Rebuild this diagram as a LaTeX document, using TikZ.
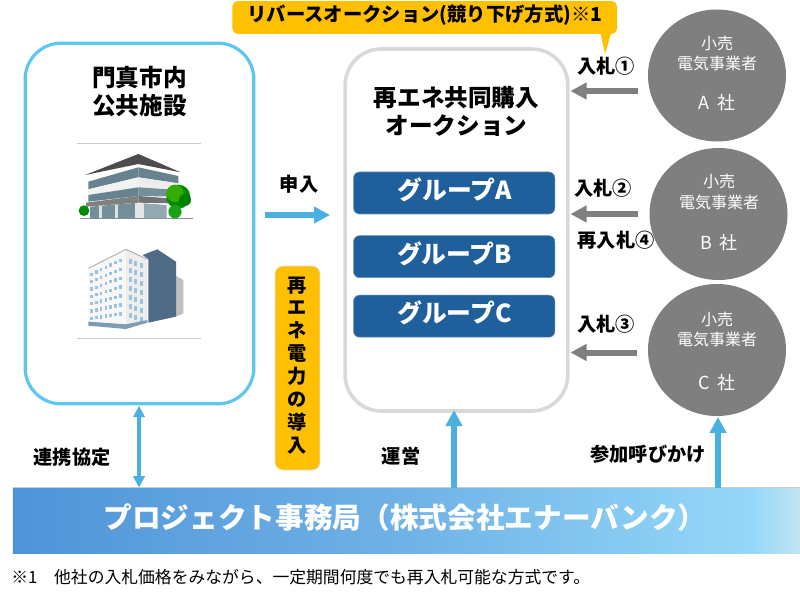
\documentclass[tikz,border=0pt]{standalone}
\usepackage{fontspec}
\setmainfont{Noto Sans CJK JP}
\usetikzlibrary{arrows.meta,shapes.geometric}
\definecolor{skyb}{HTML}{5FC6F0}
\definecolor{frameg}{HTML}{D9D9D9}
\definecolor{amber}{HTML}{FFC000}
\definecolor{groupb}{HTML}{1F5F9B}
\definecolor{circg}{HTML}{7F7F7F}
\definecolor{arrb}{HTML}{4AB0E0}
\definecolor{arrg}{HTML}{7F7F7F}
\definecolor{bandd}{HTML}{66838F}
\definecolor{winb}{HTML}{9CC3E0}
\definecolor{towerd}{HTML}{4F6B85}
\definecolor{s1}{HTML}{4F94D8}\definecolor{s2}{HTML}{70B2E6}\definecolor{s3}{HTML}{94D8F8}\definecolor{s4}{HTML}{C2E5F4}
\pgfdeclarehorizontalshading{barshade}{100bp}{color(0bp)=(s1); color(25bp)=(s1); color(50bp)=(s2); color(72bp)=(s3); color(75bp)=(s4); color(100bp)=(s4)}
\tikzset{
  lab/.style={inner sep=0pt,outer sep=0pt,font=\fontsize{14.4}{16}\selectfont\bfseries,text=black},
  head/.style={lab,align=center,font=\fontsize{17.7}{21}\selectfont\bfseries},
  grp/.style={fill=groupb,draw=groupb!70,line width=.4pt,rounded corners=4.5pt,minimum width=151pt,minimum height=31.5pt,inner sep=0pt,outer sep=0pt},
  grptext/.style={inner sep=0pt,text=white,font=\fontsize{18.6}{20}\selectfont\bfseries},
  firm/.style={ellipse,fill=circg,minimum width=103.5pt,minimum height=99pt,inner sep=0pt,outer sep=0pt},
  firmtext/.style={inner sep=0pt,text=white,font=\fontsize{12}{14}\selectfont},
  firmname/.style={inner sep=0pt,text=white,font=\fontsize{13.5}{14}\selectfont},
  bigframe/.style={fill=white,rounded corners=27pt,inner sep=0pt,outer sep=0pt},
  grayarrow/.style={draw=arrg,line width=4.5pt,shorten >=2pt,-{Triangle[length=12pt,width=12pt]}},
  bluearrow/.style={draw=arrb,line width=4.5pt,-{Triangle[length=12pt,width=12pt]}},
  divider/.style={draw=black!20,line width=.7pt},
}
\begin{document}
\begin{tikzpicture}[x=.75pt,y=-.75pt]
\useasboundingbox (0,0) rectangle (800,599);
\fill[white] (0,0) rectangle (800,599);

% frames
\node[bigframe,draw=skyb,line width=2.4pt,minimum width=171.5pt,minimum height=270.5pt] (city) at (139.5,223.5) {};
\node[bigframe,draw=frameg,line width=2.7pt,minimum width=167pt,minimum height=271.5pt] (auction) at (456.5,230) {};

\node[head] (cityt) at (139.5,92) {門真市内\\公共施設};
\node[head] (auctiont) at (456.5,111) {再エネ共同購入\\オークション};

% callout
\fill[amber] (600,30) -- (605,54) -- (612,30) -- cycle;
\node[fill=amber,rounded corners=4pt,minimum width=288.5pt,minimum height=24.7pt,inner sep=0pt,outer sep=0pt] (callout) at (424.7,17.5) {};
\node[lab,font=\fontsize{14.5}{16}\selectfont\bfseries] (calloutt) at (425,15) {リバースオークション(競り下げ方式)※1};

% dividers
\coordinate (d1a) at (77,143.5); \coordinate (d1b) at (201,143.5);
\coordinate (d2a) at (77,338); \coordinate (d2b) at (201,338);
\draw[divider] (d1a) -- (d1b);
\draw[divider] (d2a) -- (d2b);

% building 1
\begin{scope}[shift={(70,140)},x=.25pt,y=-.25pt]
\draw[black!45,line width=1pt] (30,236) -- (368,236);
\fill[bandd] (55,125) -- (205,82) -- (205,112) -- (55,148) -- cycle;
\fill[black!5] (55,148) -- (205,112) -- (205,142) -- (55,165) -- cycle;
\fill[bandd] (55,165) -- (205,142) -- (205,168) -- (55,185) -- cycle;
\fill[black!50] (48,188) -- (205,168) -- (205,188) -- (48,200) -- cycle;
\fill[bandd!90] (60,200) -- (205,188) -- (205,235) -- (60,235) -- cycle;
\fill[bandd] (205,82) -- (325,108) -- (325,130) -- (205,112) -- cycle;
\fill[black!7] (205,112) -- (325,130) -- (325,150) -- (205,142) -- cycle;
\fill[bandd!90] (205,142) -- (325,150) -- (325,170) -- (205,168) -- cycle;
\fill[black!55] (205,168) -- (300,175) -- (300,190) -- (205,188) -- cycle;
\fill[bandd!70] (222,190) -- (290,195) -- (290,235) -- (222,235) -- cycle;
\fill[black!12] (88,198) rectangle (95,235);
\fill[black!12] (135,195) rectangle (143,235);
\fill[black!10] (195,188) rectangle (222,235);
\fill[black!70] (45,105) -- (205,42) -- (332,97) -- (205,72) -- cycle;
\fill[brown!70!black] (312,190) rectangle (322,235);
\fill[green!55!black] (325,170) circle[radius=36];
\fill[green!60!black!90] (315,215) circle[radius=20];
\fill[green!60!black!80!yellow] (315,160) circle[radius=26];
\fill[green!50!black] (345,180) circle[radius=18];
\fill[green!55!black] (42,212) circle[radius=16];
\end{scope}

% building 2
\begin{scope}[shift={(70,140)},x=.25pt,y=-.25pt]
\fill[black!25] (318,408) -- (340,420) -- (340,520) -- (318,530) -- cycle;
\fill[towerd] (218,345) -- (262,328) -- (318,365) -- (318,530) -- (235,548) -- (235,358) -- cycle;
\fill[black!3] (55,385) -- (168,328) -- (168,565) -- (55,555) -- cycle;
\fill[black!7] (168,328) -- (232,358) -- (232,545) -- (168,565) -- cycle;
\draw[black!35,line width=.6pt] (55,385) -- (168,328) -- (232,358);
\foreach \r in {0,...,6} \foreach \c in {0,...,6}
  \fill[winb] ({60+\c*14.5},{398-\c*7+\r*22+\c*0.8*\r}) rectangle ++(8,10);
\foreach \r in {0,...,6} \foreach \c in {0,1,2}
  \fill[winb] ({176+\c*17},{358+\c*6+\r*27}) rectangle ++(9,13);
\fill[winb!80!black] (55,545) -- (168,553) -- (232,540) -- (232,548) -- (168,567) -- (55,557) -- cycle;
\end{scope}

% groups
\node[grp] (ga) at (454.2,193) {};
\node[grp] (gb) at (454.2,256.7) {};
\node[grp] (gc) at (454.2,316.2) {};
\node[grptext] at (454.5,190) {グループA};
\node[grptext] at (454.5,253.5) {グループB};
\node[grptext] at (454.5,313) {グループC};

% vertical tag
\node[fill=amber,draw=black!12,line width=.4pt,rounded corners=6pt,minimum width=33.7pt,minimum height=153pt,inner sep=0pt,outer sep=0pt] (tag) at (297.5,368) {};
\node[align=center,inner sep=0pt,font=\fontsize{14.4}{17.2}\selectfont\bfseries] (tagt) at (297.5,365.5) {再\\エ\\ネ\\電\\力\\の\\導\\入};

% firms
\node[firm] (fa) at (717,75.5) {};
\node[firm] (fb) at (718.5,214) {};
\node[firm] (fc) at (717,350) {};
\node[firmtext] at (717,43) {小売};
\node[firmtext] at (717,63) {電気事業者};
\node[firmname] at (717,103) {A\hspace{.45em}社};
\node[firmtext] at (719,181) {小売};
\node[firmtext] at (719,202) {電気事業者};
\node[firmname] at (719,243) {B\hspace{.45em}社};
\node[firmtext] at (717,319) {小売};
\node[firmtext] at (717,339) {電気事業者};
\node[firmname] at (717,383) {C\hspace{.45em}社};

% bar
\node[shading=barshade,minimum width=590.5pt,minimum height=49.5pt,inner sep=0pt,outer sep=0pt] (bar) at (406.5,520.5) {};
\draw[black!20,line width=.5pt] (bar.north west) -- (bar.north east);
\node[inner sep=0pt,text=white,font=\fontsize{21.5}{24}\selectfont\bfseries] (bart) at (405,518) {プロジェクト事務局（株式会社エナーバンク）};

% connectors
\coordinate (ga1) at (638,91);
\coordinate (gb1) at (638,214);
\coordinate (gc1) at (637,352.5);
\draw[grayarrow] (ga1) -- (auction.east |- ga1);
\draw[grayarrow] (gb1) -- (auction.east |- gb1);
\draw[grayarrow] (gc1) -- (auction.east |- gc1);
\coordinate (ap) at (265,215);
\coordinate (aq) at (330,215);
\draw[draw=arrb,line width=3.8pt,-{Triangle[length=12pt,width=12pt]}] (ap) -- (aq);
\draw[draw=arrb,line width=3pt,{Triangle[length=8.5pt,width=8.5pt]}-{Triangle[length=8.5pt,width=8.5pt]}] (city.south -| 139,0) ++(0,2) -- (bar.north -| 139,0);
\coordinate (aub) at (454,410);
\draw[bluearrow] (bar.north -| aub) -- (aub);
\coordinate (fcb) at (718,417);
\draw[bluearrow] (bar.north -| fcb) -- (fcb);

% labels
\node[lab] (l1) at (606,66) {入札①};
\node[lab] (l2) at (603,188) {入札②};
\node[lab] (l4) at (616,240) {再入札④};
\node[lab] (l3) at (606,324) {入札③};
\node[lab] (l5) at (299,184) {申入};
\node[lab] (l6) at (72,457) {連携協定};
\node[lab] (l7) at (401,456) {運営};
\node[lab] (l8) at (648,454) {参加呼びかけ};
\node[anchor=west,inner sep=0pt,font=\fontsize{12.6}{14}\selectfont] (foot) at (11,577) {※1　他社の入札価格をみながら、一定期間何度でも再入札可能な方式です。};
\end{tikzpicture}
\end{document}
